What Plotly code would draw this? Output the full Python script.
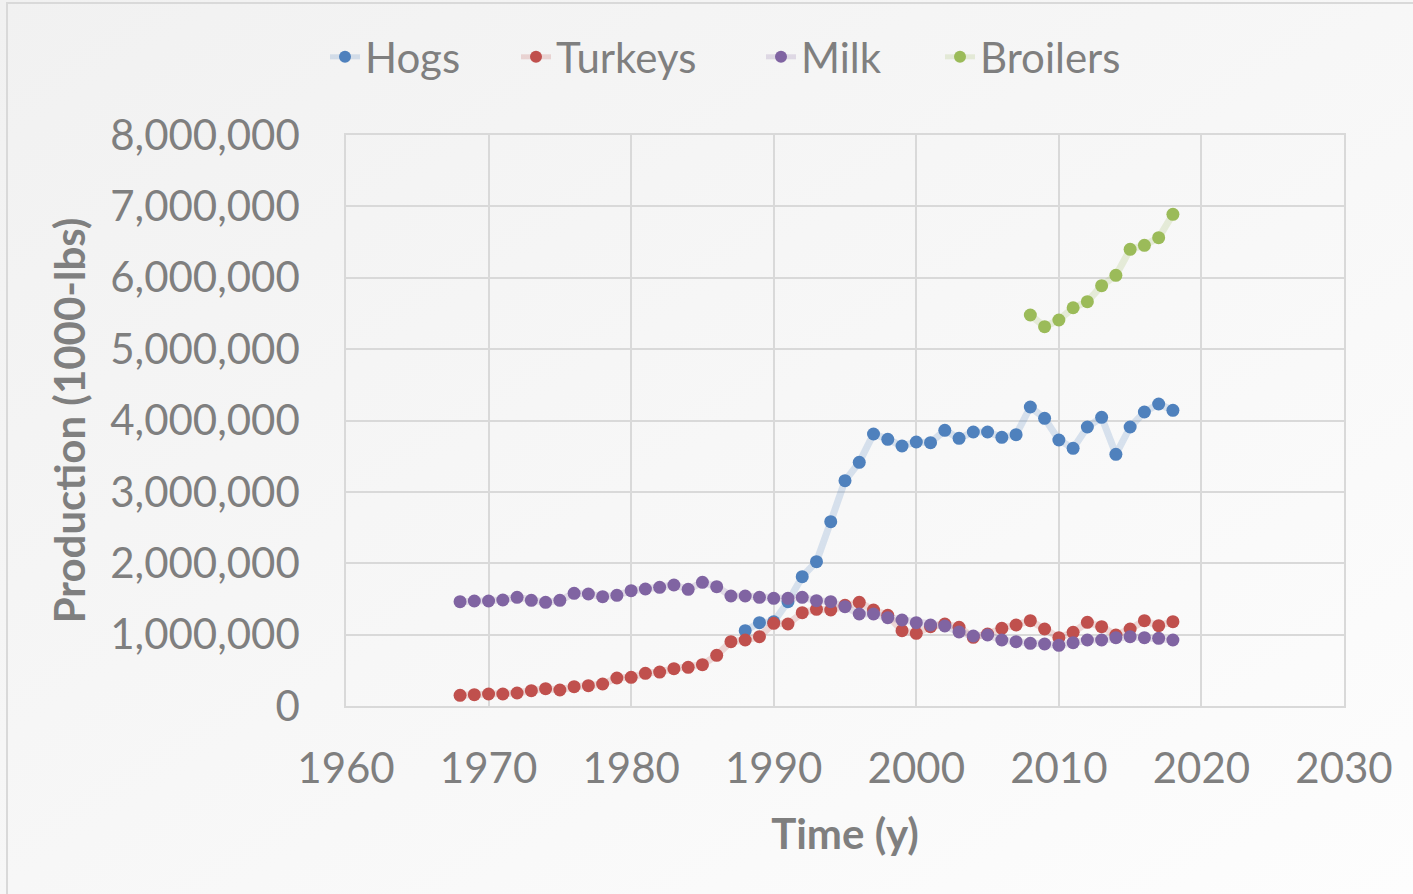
import base64
import plotly.graph_objects as go

# Annual production, thousand pounds
years_hogs = list(range(1988, 2019))
hogs = [1055000, 1167000, 1180000, 1461000, 1812000, 2022000, 2583000, 3157000,
        3414000, 3811000, 3736000, 3643000, 3699000, 3689000, 3862000, 3750000,
        3839000, 3839000, 3764000, 3802000, 4189000, 4030000, 3727000, 3610000,
        3909000, 4045000, 3526000, 3909000, 4119000, 4231000, 4143000]

years_long = list(range(1968, 2019))
turkeys = [149000, 159000, 168000, 168000, 182000, 215000, 243000, 224000, 271000,
           285000, 308000, 392000, 402000, 458000, 476000, 523000, 542000, 579000,
           710000, 901000, 925000, 971000, 1159000, 1149000, 1307000, 1354000,
           1345000, 1410000, 1452000, 1345000, 1270000, 1055000, 1018000, 1111000,
           1149000, 1102000, 962000, 1009000, 1088000, 1135000, 1195000, 1079000,
           957000, 1032000, 1172000, 1111000, 995000, 1079000, 1195000, 1125000,
           1181000]
milk = [1461000, 1471000, 1471000, 1485000, 1523000, 1480000, 1452000, 1480000,
        1579000, 1569000, 1532000, 1551000, 1616000, 1639000, 1663000, 1695000,
        1635000, 1733000, 1672000, 1541000, 1541000, 1523000, 1508000, 1508000,
        1523000, 1476000, 1461000, 1391000, 1289000, 1289000, 1237000, 1205000,
        1167000, 1135000, 1121000, 1037000, 981000, 995000, 925000, 901000,
        878000, 869000, 850000, 887000, 925000, 925000, 957000, 971000, 957000,
        948000, 925000]

years_broilers = list(range(2008, 2019))
broilers = [5478000, 5314000, 5408000, 5580000, 5665000, 5889000, 6034000,
            6398000, 6454000, 6561000, 6889000]

series = [
    ("Hogs", years_hogs, hogs, "79,129,189"),
    ("Turkeys", years_long, turkeys, "192,80,77"),
    ("Milk", years_long, milk, "128,100,162"),
    ("Broilers", years_broilers, broilers, "155,187,89"),
]
# left edge (px) of each legend entry's label
legend_text_x = [367, 558, 803, 982]

W, H = 1413, 894
L, R, T, B = 346, 69, 135, 188
pw, ph = W - L - R, H - T - B

font_family = "Lato, 'Open Sans', sans-serif"
grey = "#7f7f7f"
grid = "#d9d9d9"

fig = go.Figure()
legends = {}
for i, (name, xs, ys, rgb) in enumerate(series):
    key = "legend" if i == 0 else f"legend{i + 1}"
    fig.add_trace(go.Scatter(
        x=xs, y=ys, name=name, mode="lines+markers", legend=key,
        line=dict(color=f"rgba({rgb},0.2)", width=7),
        marker=dict(color=f"rgb({rgb})", size=13, line=dict(width=0)),
    ))
    legends[key] = dict(
        orientation="h", x=(legend_text_x[i] - 42 - L) / pw, xanchor="left",
        y=1 + (T - 57) / ph, yanchor="middle",
        font=dict(size=42, color=grey), bgcolor="rgba(0,0,0,0)",
        itemsizing="constant",
    )

# Soft diagonal background wash with a thin frame
svg = (
    f"<svg xmlns='http://www.w3.org/2000/svg' width='{W}' height='{H}'>"
    "<defs><linearGradient id='g' x1='0' y1='0' x2='1' y2='1'>"
    "<stop offset='0' stop-color='#f1f1f1'/>"
    "<stop offset='1' stop-color='#fdfdfd'/></linearGradient></defs>"
    f"<rect width='{W}' height='{H}' fill='url(#g)'/>"
    f"<rect x='7' y='3' width='{W + 20}' height='{H + 20}' fill='none' "
    "stroke='#d9d9d9' stroke-width='2'/></svg>"
)
bg = "data:image/svg+xml;base64," + base64.b64encode(svg.encode()).decode()

fig.update_layout(
    width=W, height=H,
    margin=dict(l=L, r=R, t=T, b=B, autoexpand=False),
    paper_bgcolor="rgba(0,0,0,0)",
    plot_bgcolor="rgba(0,0,0,0)",
    font=dict(family=font_family, color=grey, size=42),
    images=[dict(
        source=bg, xref="paper", yref="paper",
        x=-L / pw, y=1 + T / ph, sizex=W / pw, sizey=H / ph,
        xanchor="left", yanchor="top", sizing="stretch", layer="below",
    )],
    showlegend=True,
    **legends,
    xaxis=dict(
        range=[1960, 2030], dtick=10, tick0=1960,
        showgrid=True, gridcolor=grid, gridwidth=1.5,
        showline=True, linecolor=grid, linewidth=1.5, mirror=True,
        zeroline=False, ticks="", ticklabelstandoff=25,
        tickfont=dict(size=42, color=grey),
        title=dict(text="<b>Time (y)</b>", font=dict(size=42, color=grey), standoff=28),
    ),
    yaxis=dict(
        range=[0, 8000000], dtick=1000000, tick0=0, tickformat=",",
        showgrid=True, gridcolor=grid, gridwidth=1.5,
        showline=True, linecolor=grid, linewidth=1.5, mirror=True,
        zeroline=False, ticks="", ticklabelstandoff=36,
        tickfont=dict(size=42, color=grey),
        title=dict(text="<b>Production (1000-lbs)</b>", font=dict(size=42, color=grey), standoff=12),
    ),
)

fig.write_html("out.html")
